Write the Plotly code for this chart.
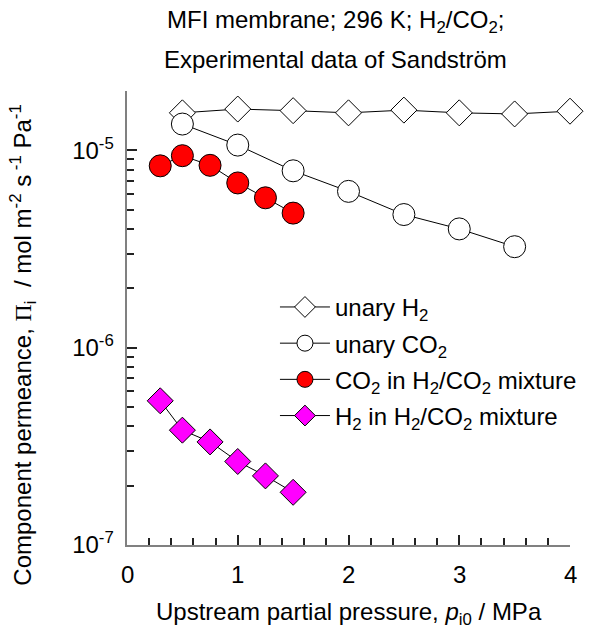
import plotly.graph_objects as go

# ---- data ----
x_unary_h2 = [0.5, 1.0, 1.5, 2.0, 2.5, 3.0, 3.5, 4.0]
pi_unary_h2 = [1.55e-5, 1.62e-5, 1.59e-5, 1.55e-5, 1.60e-5, 1.55e-5, 1.53e-5, 1.58e-5]

x_unary_co2 = [0.5, 1.0, 1.5, 2.0, 2.5, 3.0, 3.5]
pi_unary_co2 = [1.36e-5, 1.064e-5, 7.88e-6, 6.2e-6, 4.73e-6, 4.0e-6, 3.25e-6]

x_mix_co2 = [0.3, 0.5, 0.75, 1.0, 1.25, 1.5]
pi_mix_co2 = [8.35e-6, 9.4e-6, 8.4e-6, 6.84e-6, 5.75e-6, 4.81e-6]

x_mix_h2 = [0.3, 0.5, 0.75, 1.0, 1.25, 1.5]
pi_mix_h2 = [5.38e-7, 3.82e-7, 3.33e-7, 2.65e-7, 2.24e-7, 1.85e-7]

y_tickvals = [1e-7, 1e-6, 1e-5]
y_ticktext = ["10<sup>-7</sup> ", "10<sup>-6</sup> ", "10<sup>-5</sup> "]
x_tickvals = [0, 1, 2, 3, 4]
x_ticktext = ["0", "1", "2", "3", "4"]

FONT = "Liberation Sans, Arial, sans-serif"
FS = 24

fig = go.Figure()

def add(x, y, name, symbol, size, fill, group):
    fig.add_trace(go.Scatter(
        x=x, y=y, name=name, mode="lines+markers", legendgroup=group,
        cliponaxis=False,
        line=dict(color="black", width=1),
        marker=dict(symbol=symbol, size=size, color=fill,
                    line=dict(color="black", width=1)),
    ))

add(x_unary_h2, pi_unary_h2, "unary H<sub>2</sub>", "diamond", 20, "white", "a")
add(x_unary_co2, pi_unary_co2, "unary CO<sub>2</sub>", "circle", 22, "white", "b")
add(x_mix_co2, pi_mix_co2, "CO<sub>2</sub> in H<sub>2</sub>/CO<sub>2</sub> mixture", "circle", 22, "#ff0000", "c")
add(x_mix_h2, pi_mix_h2, "H<sub>2</sub> in H<sub>2</sub>/CO<sub>2</sub> mixture", "diamond", 20, "#ff00ff", "d")

# x tick labels as annotations (to match the reference's larger label gap)
x_label_annots = [
    dict(text=t, x=v, xref="x", y=0, yref="paper", yanchor="middle",
         xanchor="center", yshift=-29, showarrow=False, font=dict(size=FS))
    for v, t in zip(x_tickvals, x_ticktext)
]

fig.update_layout(
    width=593, height=638,
    margin=dict(l=127, r=11, t=91, b=93),
    paper_bgcolor="white", plot_bgcolor="white",
    font=dict(family=FONT, size=FS, color="black"),
    showlegend=True,
    legend=dict(x=0.334, y=0.573, xanchor="left", yanchor="top",
                bgcolor="rgba(0,0,0,0)", font=dict(size=FS),
                tracegroupgap=2, traceorder="grouped", itemwidth=50),
    xaxis=dict(range=[0, 4], tickvals=x_tickvals, showticklabels=False,
               ticks="inside", ticklen=10,
               tickwidth=1.5, tickcolor="#222222", showline=True, linecolor="#808080",
               linewidth=1.5, showgrid=False, zeroline=False,
               minor=dict(ticks="inside", ticklen=7, dtick=0.2, tickcolor="#222222",
                          tickwidth=1.5, showgrid=False)),
    yaxis=dict(type="log", range=[-7, -4.69897], tickvals=y_tickvals,
               ticktext=y_ticktext, ticks="inside", ticklen=10, tickwidth=1.5,
               tickcolor="#222222", showline=True, linecolor="#808080",
               linewidth=1.5, showgrid=False, zeroline=False,
               minor=dict(ticks="inside", ticklen=7, dtick="D1", tickcolor="#222222",
                          tickwidth=1.5, showgrid=False)),
    annotations=x_label_annots + [
        dict(text="MFI membrane; 296 K; H<sub>2</sub>/CO<sub>2</sub>;", xref="paper",
             yref="paper", x=0.470, y=1.152, showarrow=False, xanchor="center",
             yanchor="middle", font=dict(size=FS)),
        dict(text="Experimental data of Sandström", xref="paper", yref="paper",
             x=0.470, y=1.07, showarrow=False, xanchor="center", yanchor="middle",
             font=dict(size=FS)),
        dict(text="Upstream partial pressure, <i>p</i><sub>i0</sub> / MPa",
             xref="paper", yref="paper", x=0.5, y=-0.15, showarrow=False,
             xanchor="center", yanchor="middle", font=dict(size=FS)),
        dict(text='Component permeance, <span style="font-family:Liberation Serif">\u03a0</span><sub>i</sub>  / mol m<sup>-2</sup> s<sup> -1</sup> Pa<sup>-1</sup>',
             xref="paper", yref="paper", x=-0.235, y=0.441, showarrow=False,
             xanchor="center", yanchor="middle", textangle=-90, font=dict(size=FS)),
    ],
)

fig.write_html("out.html")
